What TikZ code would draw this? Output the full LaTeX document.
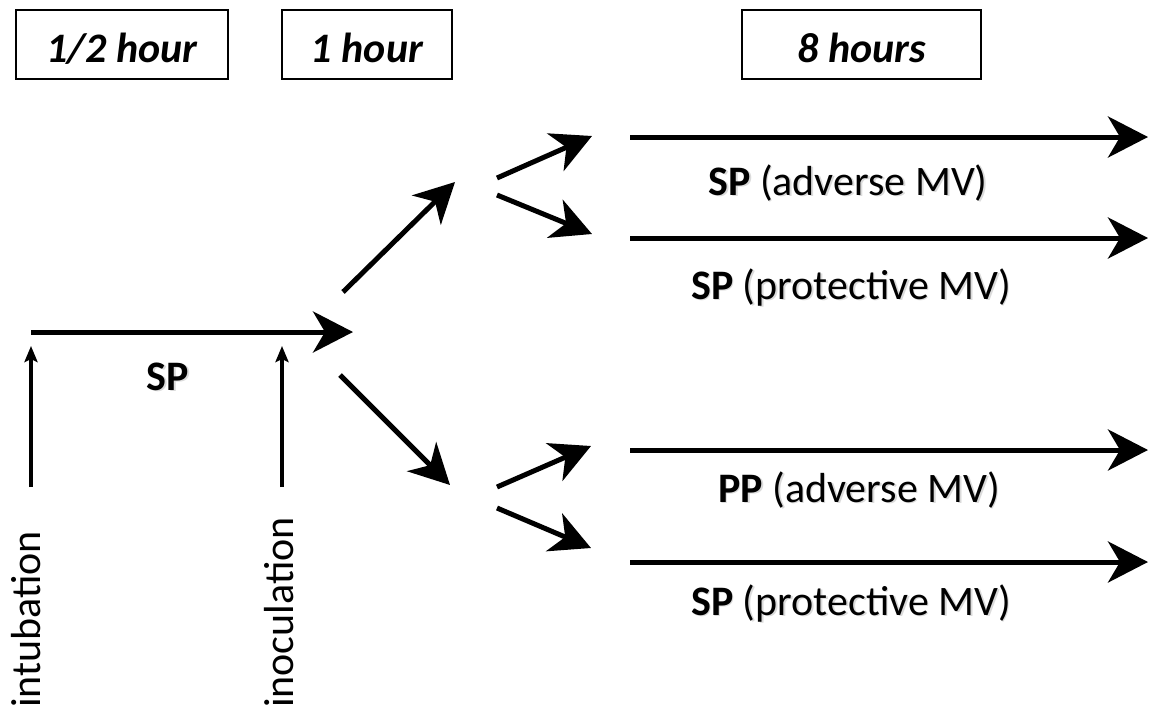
\documentclass[tikz,border=0pt]{standalone}
\usepackage{fontspec}
\setmainfont{Carlito}
\usetikzlibrary{arrows.meta}
\newcommand\shadowed[1]{\makebox[0pt][l]{\hspace{1.8pt}\raisebox{-1.8pt}{\color{black!14}#1}}#1}
\begin{document}
\begin{tikzpicture}[x=1pt,y=-1pt,
  big/.style={line width=5pt, -{Stealth[length=40pt,width=41pt,inset=12pt]}},
  small/.style={line width=3.8pt, -{Stealth[length=16pt,width=13pt,inset=3pt]}},
  box/.style={draw, line width=1.3pt, inner sep=0pt, text height=52pt, text depth=17pt,
    font=\fontsize{42}{50}\selectfont\bfseries\itshape, anchor=base},
  lbl/.style={inner sep=0pt, anchor=base, font=\fontsize{42}{50}\selectfont},
  vert/.style={inner sep=0pt, anchor=base west, rotate=90, font=\fontsize{42}{50}\selectfont}]
\useasboundingbox[fill=white] (0,0) rectangle (1150,713);

% time boxes
\node[box, minimum width=212pt] (b1) at (122,62) {1/2 hour};
\node[box, minimum width=170pt] (b2) at (367,62) {1 hour};
\node[box, minimum width=239pt] (b3) at (861.5,62) {8 hours};

% coordinates
\coordinate (m0) at (31,332);   \coordinate (m1) at (353,332);
\coordinate (v1a) at (31,487);  \coordinate (v1b) at (31,346);
\coordinate (v2a) at (282,487); \coordinate (v2b) at (282,346);
\coordinate (d1a) at (343,292); \coordinate (d1b) at (455,182);
\coordinate (d2a) at (340,375); \coordinate (d2b) at (450,485);
\coordinate (f1a) at (497,178); \coordinate (f1b) at (592,136);
\coordinate (f2a) at (497,195); \coordinate (f2b) at (592,234);
\coordinate (f3a) at (497,487); \coordinate (f3b) at (591,446);
\coordinate (f4a) at (497,508); \coordinate (f4b) at (591,548);
\coordinate (h1a) at (630,137); \coordinate (h1b) at (1148,137);
\coordinate (h2a) at (630,238); \coordinate (h2b) at (1148,238);
\coordinate (h3a) at (630,450); \coordinate (h3b) at (1148,450);
\coordinate (h4a) at (630,562); \coordinate (h4b) at (1148,562);

% arrows
\draw[big] (m0) -- (m1);
\draw[small] (v1a) -- (v1b);
\draw[small] (v2a) -- (v2b);
\draw[big] (d1a) -- (d1b);
\draw[big] (d2a) -- (d2b);
\draw[big] (f1a) -- (f1b);
\draw[big] (f2a) -- (f2b);
\draw[big] (f3a) -- (f3b);
\draw[big] (f4a) -- (f4b);
\draw[big] (h1a) -- (h1b);
\draw[big] (h2a) -- (h2b);
\draw[big] (h3a) -- (h3b);
\draw[big] (h4a) -- (h4b);

% labels
\node[lbl] (sp0) at (168,390) {\shadowed{\textbf{SP}}};
\node[lbl] (l1) at (848,195) {\shadowed{\textbf{SP} (adverse MV)}};
\node[lbl] (l2) at (851,299) {\shadowed{\textbf{SP} (protective MV)}};
\node[lbl] (l3) at (859,502) {\shadowed{\textbf{PP} (adverse MV)}};
\node[lbl] (l4) at (851,615) {\shadowed{\textbf{SP} (protective MV)}};

% vertical labels
\node[vert] (intub) at (40,708) {intubation};
\node[vert] (inoc) at (293,708) {inoculation};
\end{tikzpicture}
\end{document}
